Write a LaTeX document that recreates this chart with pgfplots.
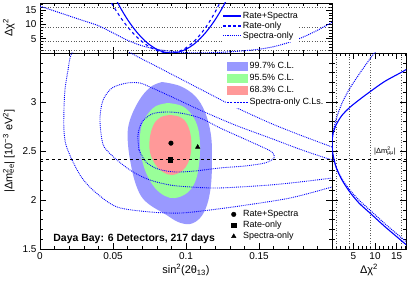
\documentclass[border=0pt]{standalone}
\usepackage{fontspec}
\setmainfont{Liberation Sans}
\setsansfont{Liberation Sans}
\usepackage{pgfplots}
\pgfplotsset{compat=1.18}

\definecolor{cBlueFill}{RGB}{153,153,255}
\definecolor{cGreenFill}{RGB}{153,255,153}
\definecolor{cRedFill}{RGB}{255,153,153}
\definecolor{rootblue}{RGB}{0,0,255}

\pgfplotsset{
  rootaxis/.style={
    scale only axis,
    anchor=south west,
    tick align=inside,
    major tick length=6bp,
    minor tick length=3bp,
    every tick/.style={black, line width=0.5pt},
    axis line style={line width=0.7pt},
    ticklabel style={font=\fontsize{10}{12}\selectfont},
    label style={font=\fontsize{11}{13}\selectfont},
    scaled ticks=false,
  },
  guide/.style={black!65, dotted, line width=0.6pt, forget plot},
  legfont/.style={font=\fontsize{9}{10}\selectfont},
  arealeg/.style={legend image code/.code={\fill[##1] (0bp,-4.5bp) rectangle (21bp,4.5bp);}},
  contleg/.style={legend image code/.code={\path[draw=none] (0bp,-3bp) rectangle (21bp,3bp); \draw[draw=rootblue, line width=1pt, dash pattern=on 2pt off 1.2pt] (0bp,0bp) -- (21bp,0bp);}},
  legsolid/.style={legend image code/.code={\path[draw=none] (0bp,-3bp) rectangle (18bp,3bp); \draw[draw=rootblue, line width=1.3pt, solid] (0bp,0bp) -- (18bp,0bp);}},
  legdashed/.style={legend image code/.code={\path[draw=none] (0bp,-3bp) rectangle (18bp,3bp); \draw[draw=rootblue, line width=1.3pt, dash pattern=on 3pt off 2pt] (0bp,0bp) -- (18bp,0bp);}},
  legdotted/.style={legend image code/.code={\path[draw=none] (0bp,-3bp) rectangle (18bp,3bp); \draw[draw=rootblue, line width=1.1pt, densely dotted] (0bp,0bp) -- (18bp,0bp);}},
  markleg/.style={legend image code/.code={\path[draw=none, fill=none] (0bp,-3bp) rectangle (17bp,3bp); \draw[##1] plot coordinates {(8.5bp,0bp)};}},
}

\begin{document}
\begin{tikzpicture}
\useasboundingbox (0,0) rectangle (415bp,281bp);

% ---------------- top panel ----------------
\begin{axis}[rootaxis, at={(40bp,228bp)}, width=292bp, height=50bp,
  xmin=0, xmax=0.2, ymin=0, ymax=17.4,
  xtick={0,0.05,0.1,0.15}, xticklabels={},
  minor xtick={0.01,0.02,0.03,0.04,0.06,0.07,0.08,0.09,0.11,0.12,0.13,0.14,0.16,0.17,0.18,0.19},
  ytick={5,10,15}, yticklabels={5,10,15},
  minor ytick={1,2,3,4,6,7,8,9,11,12,13,14,16,17},
  ylabel={Δχ\textsuperscript{2}},
  ylabel style={at={(rel axis cs:-0.075,0.5)}, anchor=south},
  legend style={at={(0.623,0.86)}, anchor=north west, draw=none, fill=white,
    legfont, row sep=-0.5bp, inner sep=0.5bp,
    nodes={inner sep=1bp, text height=6.5bp, text depth=2bp}},
  legend cell align=left,
]
\addplot[guide] coordinates {(0,1) (0.2,1)};
\addplot[guide] coordinates {(0,4) (0.2,4)};
\addplot[guide] coordinates {(0,9) (0.2,9)};
\addplot[guide] coordinates {(0,16) (0.2,16)};
\addplot[rootblue, line width=1.1pt, smooth, legsolid] coordinates {
 (0.050,20.7) (0.055,15.8) (0.060,11.6) (0.065,8.07) (0.070,5.17) (0.075,2.9)
 (0.080,1.29) (0.085,0.32) (0.090,0) (0.095,0.32) (0.100,1.29) (0.105,2.9)
 (0.110,5.17) (0.115,8.07) (0.120,11.6) (0.125,15.8) (0.130,20.7)};
\addlegendentry{Rate+Spectra}
\addplot[rootblue, line width=1.1pt, dashed, smooth, legdashed] coordinates {
 (0.045,21.0) (0.050,16.5) (0.055,12.5) (0.060,9.1) (0.065,6.25) (0.070,3.92)
 (0.075,2.13) (0.080,0.88) (0.085,0.17) (0.089,0) (0.095,0.54) (0.100,1.8)
 (0.105,3.81) (0.110,6.56) (0.115,10.05) (0.120,14.3) (0.125,19.3)};
\addlegendentry{Rate-only}
\addplot[rootblue, line width=1pt, densely dotted, smooth, legdotted] coordinates {
 (0,16.3) (0.01,14.6) (0.02,12.9) (0.03,11.2) (0.04,9.5) (0.05,7.0) (0.06,4.4)
 (0.07,2.5) (0.08,1.3) (0.09,0.55) (0.10,0.12) (0.108,0) (0.12,0.15) (0.13,0.4)
 (0.14,0.8) (0.15,1.3) (0.16,2.2) (0.17,3.6) (0.18,5.5) (0.19,7.9) (0.20,10.7)};
\addlegendentry{Spectra-only}
\end{axis}

% ---------------- main panel ----------------
\begin{axis}[rootaxis, at={(40bp,32bp)}, width=292bp, height=196bp,
  xmin=0, xmax=0.2, ymin=1.5, ymax=3.5,
  xtick={0,0.05,0.1,0.15}, xticklabels={0,0.05,0.1,0.15},
  minor xtick={0.01,0.02,0.03,0.04,0.06,0.07,0.08,0.09,0.11,0.12,0.13,0.14,0.16,0.17,0.18,0.19},
  ytick={1.5,2,2.5,3}, yticklabels={1.5,2,2.5,3},
  minor ytick={1.6,1.7,1.8,1.9,2.1,2.2,2.3,2.4,2.6,2.7,2.8,2.9,3.1,3.2,3.3,3.4},
  xlabel={sin\textsuperscript{2}(2θ\textsubscript{13})},
  xlabel style={at={(rel axis cs:0.5,-0.06)}, anchor=north},
  ylabel={|Δm\rlap{\textsuperscript{2}}\textsubscript{ee}| [10\textsuperscript{−3} eV\textsuperscript{2}]},
  ylabel style={at={(rel axis cs:-0.075,0.5)}, anchor=south},
  legend style={at={(0.637,0.964)}, anchor=north west, draw=none, fill=white,
    legfont, row sep=1.5bp, inner sep=0.5bp,
    nodes={inner sep=1bp, text height=6.5bp, text depth=2bp}},
  legend cell align=left,
]
\addplot[fill=cBlueFill, draw=none, smooth, tension=0.6, arealeg] coordinates {
 (0.0836,3.204) (0.0959,3.163) (0.1062,3.061) (0.1130,2.898) (0.1171,2.663) (0.1178,2.408)
 (0.1171,2.153) (0.1144,1.949) (0.1096,1.816) (0.1027,1.755) (0.0945,1.776) (0.0856,1.857)
 (0.0753,1.949) (0.0692,2.041) (0.0651,2.184) (0.0623,2.357) (0.0603,2.561) (0.0603,2.735)
 (0.0637,2.898) (0.0699,3.061) (0.0767,3.163) (0.0836,3.204)};
\addlegendentry{99.7\% C.L.}
\addplot[fill=cGreenFill, draw=none, smooth, tension=0.6, arealeg] coordinates {
 (0.0877,2.990) (0.0973,2.959) (0.1041,2.867) (0.1082,2.735) (0.1096,2.561) (0.1089,2.357)
 (0.1062,2.184) (0.1007,2.071) (0.0925,2.020) (0.0856,2.041) (0.0788,2.122) (0.0733,2.255)
 (0.0699,2.408) (0.0685,2.561) (0.0692,2.735) (0.0733,2.867) (0.0795,2.959) (0.0877,2.990)};
\addlegendentry{95.5\% C.L.}
\addplot[fill=cRedFill, draw=none, smooth, tension=0.6, arealeg] coordinates {
 (0.0890,2.867) (0.0959,2.847) (0.1007,2.776) (0.1034,2.643) (0.1034,2.490) (0.1014,2.378)
 (0.0973,2.296) (0.0904,2.255) (0.0842,2.286) (0.0788,2.367) (0.0753,2.490) (0.0753,2.643)
 (0.0781,2.776) (0.0829,2.847) (0.0890,2.867)};
\addlegendentry{68.3\% C.L.}
% spectra-only contours
\addplot[rootblue, densely dotted, line width=0.9pt, smooth, contleg] coordinates {
 (0.2000,2.541) (0.1781,2.663) (0.1575,2.786) (0.1336,2.949) (0.1096,3.133) (0.0925,3.265)
 (0.0753,3.398) (0.0685,3.449) (0.0582,3.53) (0.045,3.60) (0.032,3.60) (0.0219,3.50)
 (0.0192,3.327) (0.0171,3.122) (0.0164,2.918) (0.0164,2.714) (0.0178,2.561) (0.0226,2.388)
 (0.0288,2.224) (0.0377,2.082) (0.0527,1.929) (0.0753,1.878) (0.0959,1.867) (0.1164,1.898)
 (0.1370,1.939) (0.1712,2.020) (0.2000,2.133)};
\addlegendentry{Spectra-only C.Ls.}
\addplot[rootblue, densely dotted, line width=0.9pt, smooth, forget plot] coordinates {
 (0.2000,2.408) (0.1795,2.510) (0.1575,2.633) (0.1336,2.765) (0.1096,2.918) (0.0890,3.061)
 (0.0753,3.153) (0.0685,3.194) (0.0596,3.194) (0.0493,3.143) (0.0432,3.020) (0.0411,2.847)
 (0.0418,2.680) (0.0440,2.540) (0.0527,2.408) (0.0637,2.286) (0.0753,2.204) (0.0890,2.153)
 (0.1027,2.133) (0.1199,2.122) (0.1370,2.133) (0.1575,2.153) (0.1781,2.184) (0.2000,2.224)};
\addplot[rootblue, densely dotted, line width=0.9pt, smooth, forget plot] coordinates {
 (0.0678,2.510) (0.0671,2.663) (0.0699,2.796) (0.0767,2.878) (0.0856,2.898) (0.0959,2.888)
 (0.1096,2.837) (0.1233,2.735) (0.1370,2.643) (0.1507,2.551) (0.1589,2.490) (0.1603,2.429)
 (0.1541,2.378) (0.1404,2.347) (0.1233,2.327) (0.1062,2.296) (0.0925,2.286) (0.0808,2.316)
 (0.0726,2.388) (0.0678,2.510)};
\addplot[black, dashed, line width=0.8pt, forget plot] coordinates {(0,2.41) (0.2,2.41)};
\node[anchor=base west, font=\bfseries\fontsize{10.5}{12}\selectfont] at (rel axis cs:0.034,0.036) {Daya Bay: 6 Detectors, 217 days};
\end{axis}

% ---------------- best-fit markers (overlay) ----------------
\begin{axis}[at={(40bp,32bp)}, anchor=south west, scale only axis, width=292bp, height=196bp,
  xmin=0, xmax=0.2, ymin=1.5, ymax=3.5, hide axis,
  legend style={at={(0.632,0.207)}, anchor=north west, draw=none, fill=none,
    legfont, row sep=0.5bp, inner sep=0.5bp,
    nodes={inner sep=1bp, text height=6.5bp, text depth=2bp}},
  legend cell align=left,
]
\addplot[only marks, mark=*, mark size=2.3bp, black, markleg] coordinates {(0.0897,2.58)};
\addlegendentry{Rate+Spectra}
\addplot[only marks, mark=square*, mark size=2.2bp, black, markleg] coordinates {(0.0890,2.41)};
\addlegendentry{Rate-only}
\addplot[only marks, mark=triangle*, mark size=2.6bp, black, markleg] coordinates {(0.108,2.54)};
\addlegendentry{Spectra-only}
\end{axis}

% ---------------- right panel ----------------
\begin{axis}[rootaxis, at={(332bp,32bp)}, width=74bp, height=196bp,
  xmin=0, xmax=17.2, ymin=1.5, ymax=3.5,
  xtick={5,10,15}, xticklabels={5,10,15},
  minor xtick={1,2,3,4,6,7,8,9,11,12,13,14,16,17},
  ytick={1.5,2,2.5,3}, yticklabels={},
  minor ytick={1.6,1.7,1.8,1.9,2.1,2.2,2.3,2.4,2.6,2.7,2.8,2.9,3.1,3.2,3.3,3.4},
  xlabel={Δχ\textsuperscript{2}},
  xlabel style={at={(rel axis cs:0.5,-0.06)}, anchor=north},
]
\addplot[guide] coordinates {(1,1.5) (1,3.5)};
\addplot[guide] coordinates {(4,1.5) (4,3.5)};
\addplot[guide] coordinates {(9,1.5) (9,3.5)};
\addplot[guide] coordinates {(16,1.5) (16,3.5)};
\addplot[black, dashed, line width=0.8pt] coordinates {(0,2.41) (17.2,2.41)};
\addplot[rootblue, line width=1.1pt, smooth] coordinates {
 (17.6,3.34) (16,3.30) (12.25,3.21) (9,3.11) (6.25,3.02) (4,2.94) (2.25,2.86) (1,2.77)
 (0.25,2.68) (0,2.58) (0.25,2.46) (1,2.33) (2.25,2.21) (4,2.09) (6.25,1.97) (9,1.86)
 (12.25,1.73) (16,1.59) (17.6,1.53)};
\addplot[rootblue, line width=1pt, densely dotted, smooth] coordinates {
 (11,3.56) (9.5,3.48) (8,3.39) (6.25,3.28) (4,3.13) (2.25,2.98) (1,2.83) (0.25,2.685)
 (0,2.54) (0.25,2.44) (1,2.33) (2.25,2.22) (4,2.11) (6.25,2.00) (9,1.89) (12.25,1.76)
 (16,1.62) (17.6,1.56)};
\node[font=\fontsize{7.5}{9}\selectfont, anchor=south, inner sep=1bp] at (axis cs:12.3,2.44) {|Δm\rlap{\textsuperscript{2}}\textsubscript{μμ}|};
\end{axis}
\end{tikzpicture}
\end{document}
